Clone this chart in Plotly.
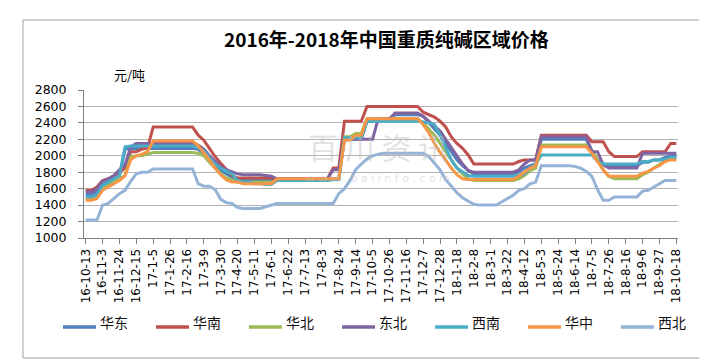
import plotly.graph_objects as go
import pandas as pd

# ---- data ----
weeks = [f"{d.year % 100}-{d.month}-{d.day}" for d in pd.date_range("2016-10-13", periods=106, freq="7D")]
tick_labels = weeks[::3]

east = [1530, 1530, 1560, 1650, 1690, 1720, 1760, 2080, 2090, 2090,
        2090, 2090, 2090, 2090, 2090, 2090, 2090, 2090, 2090, 2090,
        2080, 2030, 1960, 1880, 1820, 1780, 1740, 1720, 1700, 1700,
        1700, 1700, 1700, 1700, 1710, 1710, 1710, 1710, 1710, 1710,
        1710, 1710, 1710, 1710, 1720, 1720, 2200, 2200, 2200, 2200,
        2420, 2420, 2450, 2450, 2450, 2500, 2500, 2500, 2500, 2500,
        2480, 2400, 2330, 2250, 2150, 2050, 1950, 1880, 1820, 1780,
        1780, 1780, 1780, 1780, 1780, 1780, 1780, 1800, 1850, 1880,
        1900, 2200, 2200, 2200, 2200, 2200, 2200, 2200, 2200, 2200,
        2050, 1950, 1900, 1880, 1880, 1880, 1880, 1880, 1880, 1920,
        1920, 1950, 1950, 1980, 2000, 2000]
south = [1580, 1580, 1620, 1700, 1720, 1750, 1800, 1850, 2050, 2050,
         2080, 2100, 2350, 2350, 2350, 2350, 2350, 2350, 2350, 2350,
         2250, 2190, 2090, 1990, 1910, 1830, 1760, 1730, 1730, 1730,
         1730, 1730, 1730, 1730, 1720, 1720, 1720, 1720, 1720, 1720,
         1720, 1720, 1720, 1720, 1850, 1850, 2420, 2420, 2420, 2420,
         2600, 2600, 2600, 2600, 2600, 2600, 2600, 2600, 2600, 2600,
         2530, 2500, 2470, 2420, 2350, 2230, 2150, 2090, 2010, 1900,
         1900, 1900, 1900, 1900, 1900, 1900, 1900, 1930, 1950, 1950,
         1950, 2250, 2250, 2250, 2250, 2250, 2250, 2250, 2250, 2250,
         2170, 2170, 2170, 2050, 1990, 1990, 1990, 1990, 1990, 2050,
         2050, 2050, 2050, 2050, 2150, 2150]
north = [1480, 1480, 1500, 1600, 1650, 1680, 1720, 1760, 1990, 2000,
         2000, 2020, 2040, 2040, 2040, 2040, 2040, 2040, 2040, 2040,
         2030, 2000, 1920, 1850, 1780, 1730, 1700, 1680, 1680, 1680,
         1680, 1680, 1680, 1680, 1700, 1700, 1700, 1700, 1700, 1700,
         1700, 1700, 1700, 1700, 1720, 1720, 2230, 2230, 2270, 2270,
         2450, 2450, 2450, 2450, 2450, 2450, 2450, 2450, 2450, 2450,
         2400, 2330, 2250, 2150, 2050, 1950, 1850, 1780, 1720, 1700,
         1700, 1700, 1700, 1700, 1700, 1700, 1700, 1720, 1760, 1820,
         1850, 2130, 2130, 2130, 2130, 2130, 2130, 2130, 2130, 2130,
         2070, 1950, 1830, 1750, 1720, 1720, 1720, 1720, 1720, 1770,
         1800, 1850, 1890, 1940, 1960, 1960]
northeast = [1560, 1560, 1600, 1690, 1720, 1760, 1830, 1890, 2110, 2150,
             2150, 2150, 2150, 2150, 2150, 2150, 2150, 2150, 2150, 2150,
             2130, 2080, 2000, 1930, 1870, 1830, 1800, 1780, 1770, 1770,
             1770, 1770, 1760, 1750, 1720, 1720, 1720, 1720, 1720, 1720,
             1720, 1720, 1720, 1720, 1830, 1830, 2200, 2200, 2200, 2200,
             2200, 2200, 2450, 2450, 2450, 2520, 2520, 2520, 2520, 2520,
             2480, 2420, 2350, 2300, 2200, 2100, 2000, 1900, 1820, 1800,
             1800, 1800, 1800, 1800, 1800, 1800, 1800, 1830, 1900, 1950,
             1950, 2230, 2230, 2230, 2230, 2230, 2230, 2230, 2230, 2230,
             2050, 2050, 1890, 1850, 1850, 1850, 1850, 1850, 1850, 2030,
             2030, 2030, 2030, 2030, 2030, 2030]
southwest = [1500, 1500, 1520, 1640, 1680, 1720, 1760, 2110, 2120, 2120,
             2120, 2120, 2120, 2120, 2120, 2120, 2120, 2120, 2120, 2120,
             2100, 2060, 1980, 1900, 1850, 1810, 1780, 1700, 1680, 1680,
             1660, 1660, 1650, 1650, 1700, 1700, 1700, 1700, 1700, 1700,
             1700, 1700, 1700, 1700, 1710, 1710, 2220, 2220, 2220, 2220,
             2420, 2420, 2420, 2420, 2420, 2420, 2420, 2420, 2420, 2420,
             2410, 2400, 2380, 2250, 2100, 1950, 1850, 1800, 1760, 1750,
             1750, 1750, 1750, 1750, 1750, 1750, 1750, 1760, 1780, 1850,
             1900, 2010, 2010, 2010, 2010, 2010, 2010, 2010, 2010, 2010,
             2010, 1930, 1900, 1900, 1900, 1900, 1900, 1900, 1900, 1930,
             1930, 1950, 1950, 1960, 1980, 1980]
central = [1460, 1460, 1480, 1580, 1620, 1660, 1700, 1760, 1950, 2000,
           2020, 2050, 2180, 2180, 2180, 2180, 2180, 2180, 2180, 2180,
           2120, 2040, 1950, 1850, 1770, 1710, 1680, 1680, 1660, 1660,
           1660, 1660, 1660, 1660, 1720, 1720, 1720, 1720, 1720, 1720,
           1720, 1720, 1720, 1720, 1720, 1720, 2190, 2190, 2250, 2250,
           2450, 2450, 2450, 2450, 2450, 2450, 2450, 2450, 2450, 2450,
           2380, 2280, 2150, 2040, 1950, 1850, 1770, 1720, 1710, 1710,
           1710, 1710, 1710, 1710, 1710, 1710, 1710, 1750, 1800, 1850,
           1880, 2110, 2110, 2110, 2110, 2110, 2110, 2110, 2110, 2110,
           2030, 1930, 1830, 1750, 1750, 1750, 1750, 1750, 1750, 1790,
           1810, 1850, 1880, 1930, 1950, 1950]
northwest = [1220, 1220, 1220, 1400, 1420, 1480, 1540, 1580, 1690, 1780,
             1800, 1800, 1840, 1840, 1840, 1840, 1840, 1840, 1840, 1840,
             1660, 1630, 1630, 1590, 1470, 1430, 1420, 1370, 1360, 1360,
             1360, 1360, 1380, 1400, 1420, 1420, 1420, 1420, 1420, 1420,
             1420, 1420, 1420, 1420, 1420, 1540, 1600, 1700, 1830, 1900,
             1960, 2000, 2020, 2030, 2030, 2030, 2030, 2030, 2030, 2030,
             2030, 1990, 1910, 1830, 1710, 1630, 1550, 1490, 1450, 1410,
             1400, 1400, 1400, 1400, 1440, 1480, 1520, 1580, 1600, 1660,
             1680, 1880, 1880, 1880, 1880, 1880, 1880, 1870, 1850, 1810,
             1750, 1590, 1460, 1460, 1500, 1500, 1500, 1500, 1500, 1570,
             1580, 1620, 1660, 1700, 1700, 1700]

series = [
    ("华东", east, "#4F81BD"),
    ("华南", south, "#C0504D"),
    ("华北", north, "#9BBB59"),
    ("东北", northeast, "#8064A2"),
    ("西南", southwest, "#4BACC6"),
    ("华中", central, "#F79646"),
    ("西北", northwest, "#95B3D7"),
]

# ---- layout geometry (pixels) ----
W, H = 707, 363
L, R, T, B = 76, 670, 82, 230

def px(xp):
    return (xp - L) / (R - L)

def py(yp):
    return (B - yp) / (B - T)

fig = go.Figure()
for name, vals, color in series:
    fig.add_trace(go.Scatter(x=weeks, y=vals, name=name, mode="lines",
                             line=dict(color=color, width=3), showlegend=False))

shapes = [dict(type="rect", xref="paper", yref="paper",
               x0=px(15), x1=px(697), y0=py(350), y1=py(12),
               line=dict(color="#A0A0A0", width=1), layer="below")]
annotations = [
    dict(text="<b>2016年-2018年中国重质纯碱区域价格</b>", xref="paper", yref="paper",
         x=px(378), y=py(30), xanchor="center", yanchor="middle", showarrow=False,
         font=dict(family="Noto Sans CJK SC", size=19, color="#000000")),
    dict(text="元/吨", xref="paper", yref="paper",
         x=px(104), y=py(66), xanchor="left", yanchor="middle", showarrow=False,
         font=dict(family="Noto Sans CJK SC", size=13, color="#000000")),
    dict(text="百 川 资 讯", xref="paper", yref="paper",
         x=px(370), y=py(138), xanchor="center", yanchor="middle", showarrow=False,
         font=dict(family="Noto Sans CJK SC", size=30, color="rgba(190,190,190,0.45)")),
    dict(text="w w w . b a i i n f o . c o m", xref="paper", yref="paper",
         x=px(370), y=py(170), xanchor="center", yanchor="middle", showarrow=False,
         font=dict(family="DejaVu Sans", size=11, color="rgba(190,190,190,0.45)")),
    dict(text="↵", xref="paper", yref="paper",
         x=px(694), y=py(343), xanchor="center", yanchor="middle", showarrow=False,
         font=dict(family="DejaVu Sans", size=8, color="#808080")),
]

# hand-placed legend row matching the reference spacing
leg_y = 314
for k, (name, vals, color) in enumerate(series):
    x0 = 55 + 93 * k
    shapes.append(dict(type="line", xref="paper", yref="paper",
                       x0=px(x0), x1=px(x0 + 33), y0=py(leg_y + 5), y1=py(leg_y + 5),
                       line=dict(color=color, width=3.5)))
    annotations.append(dict(text=name, xref="paper", yref="paper",
                            x=px(x0 + 35), y=py(leg_y), xanchor="left", yanchor="middle",
                            showarrow=False,
                            font=dict(family="Noto Sans CJK SC", size=14, color="#111111")))

grid = "#B3B3B3"
fig.update_layout(
    width=W, height=H,
    margin=dict(l=L, r=W - R, t=T, b=H - B, pad=0),
    paper_bgcolor="white", plot_bgcolor="white",
    font=dict(family="DejaVu Sans", size=12, color="#000000"),
    showlegend=False,
    xaxis=dict(type="category", range=[-0.3, 105.3], tickmode="array",
               tickvals=tick_labels, ticktext=tick_labels, tickangle=-90,
               ticks="outside", ticklen=5, tickcolor="#808080",
               showline=True, linecolor="#808080", linewidth=1,
               showgrid=False, tickfont=dict(family="DejaVu Sans", size=12)),
    yaxis=dict(range=[1000, 2800], dtick=200, tick0=1000,
               ticks="outside", ticklen=5, tickcolor="#808080",
               ticklabelstandoff=9,
               showline=True, linecolor="#808080", linewidth=1,
               showgrid=True, gridcolor=grid, gridwidth=1,
               zeroline=False, tickfont=dict(family="DejaVu Sans", size=12.5)),
    shapes=shapes,
    annotations=annotations,
)

fig.write_html("out.html")
